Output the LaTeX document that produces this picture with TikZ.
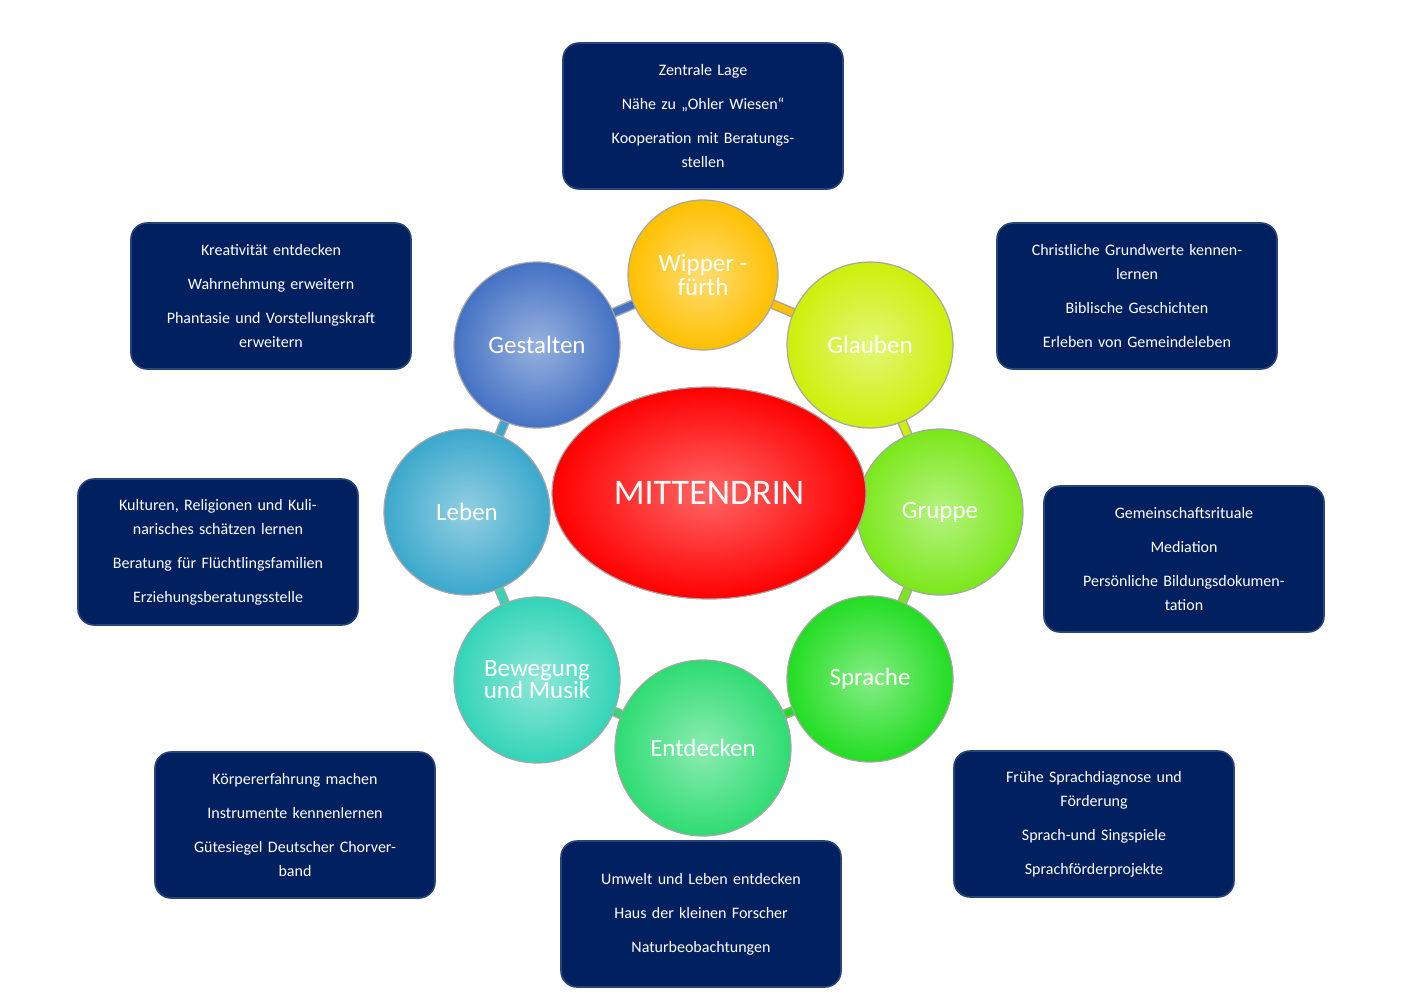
\documentclass[tikz,border=0pt]{standalone}
\usepackage{fontspec}
\setmainfont{Carlito}
\usetikzlibrary{shapes.geometric}
\definecolor{boxblue}{HTML}{002060}
\definecolor{cWip}{HTML}{FFC000}
\definecolor{cGla}{HTML}{CCF00A}
\definecolor{cGru}{HTML}{7AE81A}
\definecolor{cSpr}{HTML}{22DD22}
\definecolor{cEnt}{HTML}{2EDC72}
\definecolor{cBew}{HTML}{33D4B8}
\definecolor{cLeb}{HTML}{3BA8CC}
\definecolor{cGes}{HTML}{4472C4}
\tikzset{
  info/.style={rectangle, rounded corners=8pt, draw=cGes!60!black, line width=0.8pt, fill=boxblue, text=white,
    minimum width=140pt, minimum height=73pt, text width=132pt, align=center,
    font=\fontsize{8}{12}\selectfont},
  topic/.style={circle, draw=gray!70, line width=0.6pt, inner color=#1!55!white, outer color=#1, text=white,
    minimum size=83pt, font=\fontsize{12.5}{14}\selectfont, align=center},
  ring/.style={draw=gray!70, line width=5pt},
  ringin/.style={draw=#1, line width=3.5pt}
}
\begin{document}
\begin{tikzpicture}[x=0.5pt,y=-0.5pt]
\useasboundingbox (0,0) rectangle (1402,996);

% ring
\foreach \a/\b/\c [count=\i] in {703/275/cWip,870/345/cGla,940/512/cGru,870/679/cSpr,703/748/cEnt,537/680/cBew,467/512/cLeb,537/345/cGes}{
  \coordinate (r\i) at (\a,\b);}
\foreach \i/\j/\c in {1/2/cWip,2/3/cGla,3/4/cGru,4/5/cSpr,5/6/cEnt,6/7/cBew,7/8/cLeb,8/1/cGes}{
  \draw[ring] (r\i) -- (r\j);
  \draw[ringin=\c] (r\i) -- (r\j);}

% circles
\node (wip) [topic=cWip, minimum size=75pt] at (r1) {Wipper -\\[-2pt]fürth};
\node (gla) [topic=cGla] at (r2) {Glauben};
\node (gru) [topic=cGru] at (r3) {Gruppe};
\node (spr) [topic=cSpr] at (r4) {Sprache};
\node (ent) [topic=cEnt, minimum size=88pt] at (r5) {Entdecken};
\node (bew) [topic=cBew] at (r6) {Bewegung\\[-3pt]und Musik};
\node (leb) [topic=cLeb] at (r7) {Leben};
\node (ges) [topic=cGes] at (r8) {Gestalten};
\node (mid) [ellipse, draw=gray!70, line width=0.6pt, inner color=red!60!white, outer color=red, text=white,
  minimum width=157pt, minimum height=106pt, font=\fontsize{18}{20}\selectfont] at (709,493) {MITTENDRIN};

% boxes
\node (bWip) [info] at (703,116) {Zentrale Lage\\[5pt]Nähe zu „Ohler Wiesen“\\[5pt]Kooperation mit Beratungs-\\stellen};
\node (bGes) [info] at (271,296) {Kreativität entdecken\\[5pt]Wahrnehmung erweitern\\[5pt]Phantasie und Vorstellungskraft\\erweitern};
\node (bGla) [info] at (1137,296) {Christliche Grundwerte kennen-\\lernen\\[5pt]Biblische Geschichten\\[5pt]Erleben von Gemeindeleben};
\node (bLeb) [info] at (218,552) {Kulturen, Religionen und Kuli-\\narisches schätzen lernen\\[5pt]Beratung für Flüchtlingsfamilien\\[5pt]Erziehungsberatungsstelle};
\node (bGru) [info] at (1184,559) {Gemeinschaftsrituale\\[5pt]Mediation\\[5pt]Persönliche Bildungsdokumen-\\tation};
\node (bBew) [info] at (295,825) {Körpererfahrung machen\\[5pt]Instrumente kennenlernen\\[5pt]Gütesiegel Deutscher Chorver-\\band};
\node (bEnt) [info] at (701,914) {Umwelt und Leben entdecken\\[5pt]Haus der kleinen Forscher\\[5pt]Naturbeobachtungen};
\node (bSpr) [info] at (1094,824) {Frühe Sprachdiagnose und\\Förderung\\[5pt]Sprach-und Singspiele\\[5pt]Sprachförderprojekte};
\end{tikzpicture}
\end{document}
